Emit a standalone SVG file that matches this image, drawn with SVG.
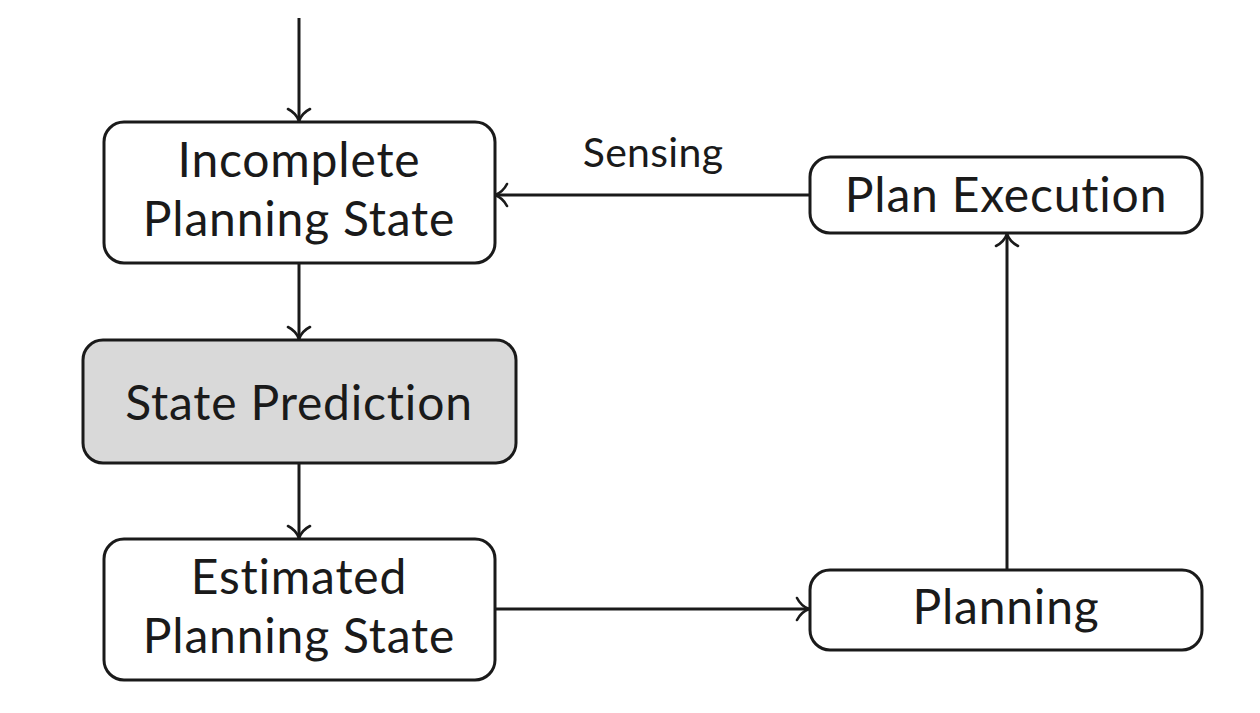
<svg xmlns="http://www.w3.org/2000/svg" width="1260" height="713" viewBox="0 0 1260 713">
  <defs>
    <!-- open, curved "to"-style arrow tip -->
    <marker id="arrow" viewBox="0 0 16 26" refX="14" refY="13" markerWidth="16" markerHeight="26" markerUnits="userSpaceOnUse" orient="auto">
      <path d="M2,2 Q6,10 14,13 Q6,16 2,24" fill="none" stroke="#1a1a1a" stroke-width="2.6" stroke-linecap="round"/>
    </marker>
    <style>
      .box { fill: #ffffff; stroke: #1a1a1a; stroke-width: 3; }
      .box.shaded { fill: #d9d9d9; }
      .label { font-family: Lato, "Open Sans", "DejaVu Sans", sans-serif; font-size: 48px; fill: #1a1a1a; text-anchor: middle; letter-spacing: 0.8px; font-variant-ligatures: none; }
      .edge-label { font-size: 41px; letter-spacing: 0.3px; }
      .edge { fill: none; stroke: #1a1a1a; stroke-width: 3; marker-end: url(#arrow); }
    </style>
  </defs>
  <rect width="1260" height="713" fill="#ffffff"/>

  <g id="connectors">
    <path class="edge" d="M299,18 V121"/>
    <path class="edge" d="M299,264 V339"/>
    <path class="edge" d="M299,464 V538"/>
    <path class="edge" d="M495,609 H809"/>
    <path class="edge" d="M1007,570 V234"/>
    <path class="edge" d="M810,195 H495"/>
    <text class="label edge-label" x="653" y="167">Sensing</text>
  </g>

  <g id="incomplete-planning-state">
    <rect class="box" x="104" y="122" width="391" height="141" rx="20"/>
    <text class="label" x="299" y="177">Incomplete</text>
    <text class="label" x="299" y="236">Planning State</text>
  </g>

  <g id="state-prediction">
    <rect class="box shaded" x="83" y="340" width="433" height="123" rx="20"/>
    <text class="label" x="299" y="420">State Prediction</text>
  </g>

  <g id="estimated-planning-state">
    <rect class="box" x="104" y="539" width="391" height="141" rx="20"/>
    <text class="label" x="299" y="594">Estimated</text>
    <text class="label" x="299" y="653">Planning State</text>
  </g>

  <g id="plan-execution">
    <rect class="box" x="810" y="157" width="392" height="76" rx="20"/>
    <text class="label" x="1006" y="212">Plan Execution</text>
  </g>

  <g id="planning">
    <rect class="box" x="810" y="570" width="392" height="80" rx="20"/>
    <text class="label" x="1006" y="624">Planning</text>
  </g>
</svg>
